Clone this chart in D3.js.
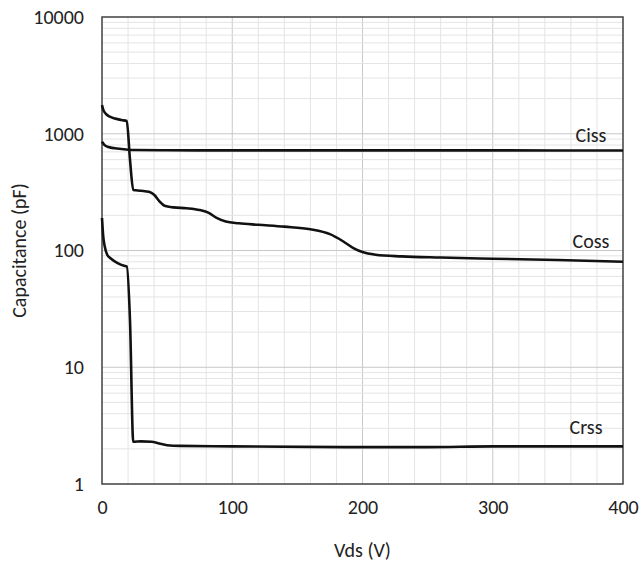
<!DOCTYPE html>
<html>
<head>
<meta charset="utf-8">
<script src="https://cdn.jsdelivr.net/npm/d3@7"></script>
<style>
  body { margin: 0; background: #fff; }
  svg { display: block; }
  text { font-family: Carlito, Lato, "Open Sans", sans-serif; fill: #222; }
</style>
</head>
<body>
<svg id="chart" width="642" height="565"></svg>
<script>
// ---- data ----
const vdsTicks = [0, 100, 200, 300, 400];
const capTicks = [1, 10, 100, 1000, 10000];
const seriesNames = ["Ciss", "Coss", "Crss"];

const cissVds = [0, 2, 5, 10, 15, 20, 25, 50, 100, 200, 300, 400];
const cissPf  = [855, 800, 770, 750, 740, 730, 725, 722, 720, 720, 720, 718];

const cossVds = [0, 1, 3, 6, 10, 15, 19, 21.5, 24, 30, 36, 40, 44, 48, 55, 65, 75, 82, 88, 95, 105, 120, 140, 160, 175, 185, 193, 200, 210, 230, 260, 300, 350, 400];
const cossPf  = [1760, 1600, 1480, 1400, 1350, 1310, 1285, 596, 330, 325, 318, 300, 265, 242, 234, 230, 222, 210, 190, 177, 171, 166, 160, 152, 138, 120, 105, 97, 92, 89, 87, 85, 83, 80];

const crssVds = [0, 1, 2, 4, 7, 12, 17, 19, 21.5, 24, 30, 38, 44, 50, 60, 100, 200, 250, 300, 400];
const crssPf  = [190, 130, 110, 92, 85, 78, 74, 73, 25, 2.3, 2.32, 2.3, 2.22, 2.15, 2.12, 2.1, 2.07, 2.07, 2.1, 2.1];

// ---- layout ----
const svg = d3.select("#chart");
const pL = 102, pR = 623, pT = 17, pB = 484;
const FONT = "Carlito, Lato, 'Open Sans', sans-serif";

const x = d3.scaleLinear().domain([0, 400]).range([pL, pR]);
const y = d3.scaleLog().domain([1, 10000]).range([pB, pT]);

// grid: vertical every 20 V
const xGrid = d3.range(20, 400, 20);
svg.append("g").selectAll("line").data(xGrid).join("line")
  .attr("x1", d => x(d)).attr("x2", d => x(d))
  .attr("y1", pT).attr("y2", pB)
  .attr("stroke", d => d % 100 === 0 ? "#c8c8c8" : "#e4e4e4")
  .attr("stroke-width", 1);

// grid: horizontal log minors
const yGrid = [];
[1, 10, 100, 1000].forEach(dec => { for (let k = 1; k <= 9; k++) { const v = dec * k; if (v > 1) yGrid.push(v); } });
svg.append("g").selectAll("line").data(yGrid).join("line")
  .attr("x1", pL).attr("x2", pR)
  .attr("y1", d => y(d)).attr("y2", d => y(d))
  .attr("stroke", d => capTicks.includes(d) ? "#c8c8c8" : "#e4e4e4")
  .attr("stroke-width", 1);

// frame
svg.append("rect").attr("x", pL).attr("y", pT)
  .attr("width", pR - pL).attr("height", pB - pT)
  .attr("fill", "none").attr("stroke", "#404040").attr("stroke-width", 1.5);

// axes labels via d3 axes (no lines)
const xAxis = svg.append("g").attr("transform", `translate(0,${pB})`)
  .call(d3.axisBottom(x).tickValues(vdsTicks).tickSize(0).tickPadding(16).tickFormat(d3.format("d")));
xAxis.select(".domain").remove();
xAxis.selectAll("text").attr("font-size", 20).attr("font-family", FONT).attr("fill", "#222");

const yAxis = svg.append("g").attr("transform", `translate(${pL},0)`)
  .call(d3.axisLeft(y).tickValues(capTicks).tickSize(0).tickPadding(18).tickFormat(d3.format("d")));
yAxis.select(".domain").remove();
yAxis.selectAll("text").attr("font-size", 20).attr("font-family", FONT).attr("fill", "#222");

// axis titles
svg.append("text").attr("x", (pL + pR) / 2).attr("y", 557)
  .attr("text-anchor", "middle").attr("font-size", 20).text("Vds (V)");
svg.append("text").attr("transform", `translate(26,${(pT + pB) / 2}) rotate(-90)`)
  .attr("text-anchor", "middle").attr("font-size", 20).text("Capacitance (pF)");

// curves
const line = d3.line().x(d => x(d[0])).y(d => y(d[1])).curve(d3.curveMonotoneX);
const series = [
  d3.zip(cissVds, cissPf),
  d3.zip(cossVds, cossPf),
  d3.zip(crssVds, crssPf)
];
svg.append("g").selectAll("path").data(series).join("path")
  .attr("d", line).attr("fill", "none")
  .attr("stroke", "#111").attr("stroke-width", 2.6).attr("stroke-linejoin", "round");

// series labels
const labelPos = [[591, 725], [591, 90], [586, 2.3]];
svg.append("g").selectAll("text").data(seriesNames).join("text")
  .attr("x", (d, i) => labelPos[i][0])
  .attr("y", (d, i) => y(labelPos[i][1]) - 8)
  .attr("text-anchor", "middle").attr("font-size", 20).text(d => d);
</script>
</body>
</html>
